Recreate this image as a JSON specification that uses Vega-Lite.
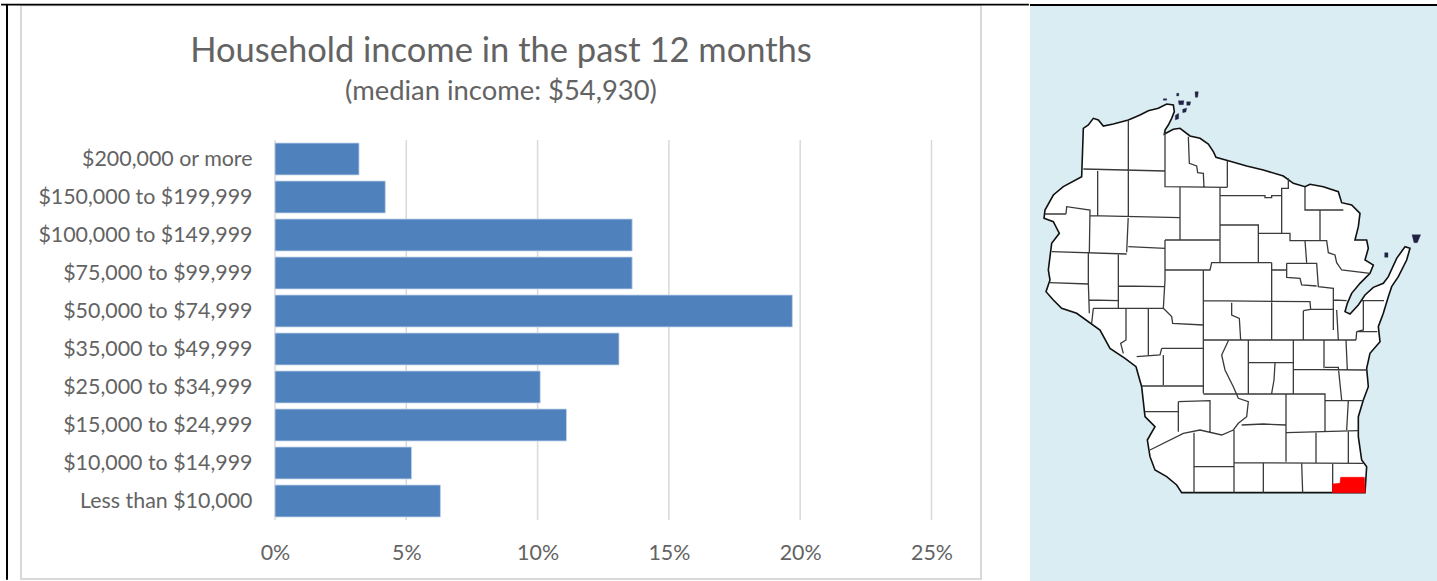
{
  "$schema": "https://vega.github.io/schema/vega-lite/v6.json",
  "padding": 0,
  "spacing": 0,
  "background": "white",
  "autosize": {"type": "pad"},
  "config": {"font": "Lato", "concat": {"spacing": 0}, "axis": {"grid": false}},
  "datasets": {
    "income": [
      {"bracket": "$200,000 or more", "share": 3.2},
      {"bracket": "$150,000 to $199,999", "share": 4.2},
      {"bracket": "$100,000 to $149,999", "share": 13.6},
      {"bracket": "$75,000 to $99,999", "share": 13.6},
      {"bracket": "$50,000 to $74,999", "share": 19.7},
      {"bracket": "$35,000 to $49,999", "share": 13.1},
      {"bracket": "$25,000 to $34,999", "share": 10.1},
      {"bracket": "$15,000 to $24,999", "share": 11.1},
      {"bracket": "$10,000 to $14,999", "share": 5.2},
      {"bracket": "Less than $10,000", "share": 6.3}
    ],
    "gridTicks": [{"tick": 0}, {"tick": 5}, {"tick": 10}, {"tick": 15}, {"tick": 20}, {"tick": 25}],
    "state": [
      {"type": "Feature", "properties": {"name": "Wisconsin"}, "geometry": {"type": "Polygon", "coordinates": [[
        [160,175],[175,165],[190,145],[205,150],[220,168],[250,162],[295,150],[330,135],[355,122],[385,115],[410,102],[430,105],[433,125],[425,145],[415,165],[405,180],[403,192],[430,178],[450,175],[480,198],[510,205],[535,222],[550,245],[558,262],[595,272],[650,288],[700,300],[760,318],[790,340],[825,350],[840,343],[880,350],[925,365],[935,398],[965,405],[990,430],[985,470],[975,510],[1010,510],[1015,535],[1005,570],[1030,585],[1020,610],[990,640],[965,670],[952,700],[945,725],[960,732],[985,705],[1005,675],[1030,652],[1060,640],[1075,620],[1100,565],[1125,530],[1140,535],[1130,570],[1105,620],[1085,650],[1075,680],[1060,730],[1045,770],[1050,815],[1020,850],[1010,895],[1015,950],[1000,990],[985,1040],[985,1100],[995,1170],[1010,1190],[1005,1268],[455,1268],[440,1245],[410,1220],[375,1200],[360,1160],[352,1110],[375,1070],[345,1040],[335,950],[318,890],[285,865],[240,835],[210,780],[140,730],[95,715],[70,690],[48,665],[60,630],[55,600],[65,520],[88,490],[70,455],[42,445],[45,420],[70,375],[100,350],[155,320],[160,175]
      ]]}}
    ],
    "countyLines": [
      {"type": "Feature", "properties": {"name": "county boundaries"}, "geometry": {"type": "MultiLineString", "coordinates": [
        [[295,150],[295,435],[290,547]],
        [[160,297],[405,303]],
        [[203,303],[203,437]],
        [[405,180],[405,350],[592,352]],
        [[475,200],[478,280],[500,288],[503,308],[520,310],[522,352]],
        [[592,272],[592,352]],
        [[570,352],[570,578]],
        [[450,352],[450,510]],
        [[570,377],[705,377],[705,383],[725,383],[725,377],[755,377]],
        [[775,325],[775,355],[755,355],[755,490]],
        [[825,350],[825,420],[940,420]],
        [[870,420],[870,512]],
        [[570,465],[685,465],[685,578]],
        [[685,490],[780,490],[780,512],[890,512],[895,548],[915,555],[920,578],[935,600],[1020,610]],
        [[825,512],[830,578]],
        [[725,578],[545,578],[540,600],[405,600]],
        [[725,578],[725,810]],
        [[725,600],[770,600],[770,622],[810,625],[815,645],[860,648]],
        [[770,580],[860,580],[865,650],[910,655],[910,780]],
        [[770,580],[770,600]],
        [[405,510],[570,510]],
        [[405,510],[405,630],[400,715],[425,740],[428,760],[520,765]],
        [[295,530],[405,535]],
        [[180,437],[450,443]],
        [[108,432],[110,410],[180,420],[178,550]],
        [[45,432],[108,432]],
        [[65,545],[290,552]],
        [[175,550],[175,640],[178,730]],
        [[265,552],[265,715]],
        [[60,638],[175,642]],
        [[265,648],[405,650]],
        [[178,690],[265,692]],
        [[190,715],[400,715]],
        [[190,715],[185,760]],
        [[520,600],[520,970]],
        [[288,715],[288,810],[272,820],[280,850]],
        [[355,715],[355,855]],
        [[395,835],[520,835]],
        [[395,835],[390,855],[320,860]],
        [[400,855],[400,945]],
        [[335,948],[520,948]],
        [[520,692],[840,695],[842,718],[910,718]],
        [[605,698],[605,735],[628,745],[632,810]],
        [[820,722],[820,810]],
        [[842,718],[820,722]],
        [[910,690],[950,692]],
        [[995,692],[1062,692]],
        [[920,720],[925,810]],
        [[1000,692],[1000,780],[980,785],[1042,785]],
        [[980,785],[978,810]],
        [[520,810],[978,810]],
        [[595,812],[575,855],[585,900],[610,950],[625,985],[655,995],[650,1040],[625,1060],[610,1080],[575,1095],[510,1080],[460,1090],[360,1140]],
        [[655,810],[655,970]],
        [[655,878],[790,878]],
        [[790,812],[790,970]],
        [[882,812],[882,895]],
        [[948,810],[952,900]],
        [[790,898],[1010,900]],
        [[885,892],[925,892],[935,990]],
        [[735,880],[732,930],[725,970]],
        [[520,972],[885,972],[885,1085]],
        [[768,972],[768,1175]],
        [[955,992],[950,1080]],
        [[885,992],[1000,992]],
        [[445,995],[540,992],[540,1085]],
        [[445,995],[445,1085]],
        [[345,1025],[445,1025]],
        [[635,1065],[700,1062],[768,1065]],
        [[612,1080],[612,1268]],
        [[770,1088],[985,1082]],
        [[858,1088],[858,1178]],
        [[955,1082],[955,1178]],
        [[492,1088],[492,1268]],
        [[492,1190],[612,1190]],
        [[612,1178],[1000,1180]],
        [[700,1180],[700,1268]],
        [[815,1180],[818,1268]],
        [[908,1180],[908,1268]]
      ]}}
    ],
    "kenosha": [
      {"type": "Feature", "properties": {"name": "Kenosha County"}, "geometry": {"type": "Polygon", "coordinates": [[
        [908,1242],[930,1240],[932,1222],[1003,1222],[1006,1268],[908,1268],[908,1242]
      ]]}}
    ],
    "islands": [
      {"type": "Feature", "properties": {"name": "islands"}, "geometry": {"type": "MultiPolygon", "coordinates": [
        [[[495,65],[505,65],[503,82],[496,82],[495,65]]],
        [[[440,70],[447,70],[446,78],[440,78],[440,70]]],
        [[[445,92],[462,92],[460,104],[447,104],[445,92]]],
        [[[470,95],[482,95],[480,106],[470,106],[470,95]]],
        [[[458,118],[470,114],[468,126],[458,128],[458,118]]],
        [[[436,136],[446,130],[446,146],[436,150],[436,136]]],
        [[[400,86],[410,86],[410,91],[400,91],[400,86]]],
        [[[1146,494],[1172,494],[1162,518],[1152,518],[1146,494]]],
        [[[1064,548],[1074,548],[1074,562],[1064,562],[1064,548]]]
      ]}}
    ],
    "pageRule": [
      {"type": "Feature", "properties": {"name": "page rule"}, "geometry": {"type": "LineString", "coordinates": [[0,-195],[1221,-195]]}}
    ],
    "pageStrip": [
      {"type": "Feature", "properties": {"name": "page strip"}, "geometry": {"type": "Polygon", "coordinates": [[[0,-210],[1221,-210],[1221,-195],[0,-195],[0,-210]]]}}
    ]
  },
  "hconcat": [
    {
      "width": 1030,
      "height": 581,
      "view": {"stroke": null},
      "title": {
        "text": "Household income in the past 12 months",
        "subtitle": "(median income: $54,930)",
        "anchor": "middle",
        "frame": "group",
        "dx": -14,
        "offset": -106,
        "color": "#636363",
        "subtitleColor": "#636363",
        "font": "Lato",
        "subtitleFont": "Lato",
        "fontSize": 34.5,
        "fontWeight": 400,
        "subtitleFontSize": 27.4,
        "subtitleFontWeight": 400,
        "subtitlePadding": 8
      },
      "resolve": {"scale": {"y": "independent"}},
      "layer": [
        {
          "description": "White card behind the bars",
          "data": {"values": [{"part": "card"}]},
          "mark": {"type": "rect", "fill": "white", "stroke": "#d9d9d9", "strokeWidth": 2},
          "encoding": {
            "x": {"datum": -9.672, "type": "quantitative", "scale": {"domain": [-10.472, 28.751], "nice": false, "zero": false}},
            "x2": {"datum": 26.885},
            "y": {"datum": 0.9, "type": "quantitative", "scale": {"domain": [0, 100], "reverse": true, "nice": false}, "axis": null},
            "y2": {"datum": 99.66}
          }
        },
        {
          "description": "Table rule along the left of the page",
          "data": {"values": [{"part": "table rule"}]},
          "mark": {"type": "rule", "color": "black", "strokeWidth": 2},
          "encoding": {
            "x": {"datum": -10.205, "type": "quantitative"},
            "y": {"datum": 0.8, "type": "quantitative", "scale": {"domain": [0, 100], "reverse": true, "nice": false}, "axis": null},
            "y2": {"datum": 99.8}
          }
        },
        {
          "description": "Table rule along the top of the page",
          "data": {"values": [{"part": "table rule"}]},
          "mark": {"type": "rule", "color": "black", "strokeWidth": 1.6},
          "encoding": {
            "x": {"datum": -10.43, "type": "quantitative"},
            "x2": {"datum": 28.71},
            "y": {"datum": 0.8, "type": "quantitative", "scale": {"domain": [0, 100], "reverse": true, "nice": false}, "axis": null}
          }
        },
        {
          "description": "Vertical gridlines",
          "data": {"name": "gridTicks"},
          "mark": {"type": "rule", "color": "#d9d9d9", "strokeWidth": 1.5},
          "encoding": {
            "x": {"field": "tick", "type": "quantitative"},
            "y": {"datum": 24.1, "type": "quantitative", "scale": {"domain": [0, 100], "reverse": true, "nice": false}, "axis": null},
            "y2": {"datum": 89.5}
          }
        },
        {
          "description": "Share of households per income bracket",
          "data": {"name": "income"},
          "mark": {"type": "bar", "fill": "#4f81bd", "stroke": "#c3d3e8", "strokeWidth": 0.8},
          "encoding": {
            "x": {
              "field": "share",
              "type": "quantitative",
              "axis": {
                "values": [0, 5, 10, 15, 20, 25],
                "labelExpr": "datum.value + '%'",
                "title": null,
                "grid": false,
                "domain": false,
                "ticks": false,
                "orient": "bottom",
                "offset": -39,
                "labelPadding": 0,
                "labelFontSize": 21.4,
                "labelColor": "#636363",
                "labelFont": "Lato",
                "zindex": 1
              }
            },
            "y": {
              "field": "bracket",
              "type": "nominal",
              "sort": null,
              "scale": {"range": [140, 520], "paddingInner": 0.16, "paddingOuter": 0.08},
              "axis": {
                "title": null,
                "domain": false,
                "ticks": false,
                "orient": "left",
                "offset": -252,
                "labelPadding": 0,
                "labelOffset": 1,
                "labelFontSize": 21.4,
                "labelColor": "#636363",
                "labelFont": "Lato",
                "labelLimit": 300,
                "zindex": 1
              }
            }
          }
        }
      ]
    },
    {
      "width": 407,
      "height": 581,
      "view": {"fill": "#daedf3", "stroke": null},
      "projection": {"type": "identity", "scale": 0.33333, "translate": [0, 70]},
      "layer": [
        {
          "data": {"name": "pageStrip"},
          "mark": {"type": "geoshape", "fill": "white", "stroke": null},
          "encoding": {}
        },
        {
          "data": {"name": "state"},
          "mark": {"type": "geoshape", "fill": "white", "stroke": "#111111", "strokeWidth": 1.6},
          "encoding": {}
        },
        {
          "data": {"name": "countyLines"},
          "mark": {"type": "geoshape", "fill": null, "filled": false, "stroke": "#3a3a3a", "strokeWidth": 1.3},
          "encoding": {}
        },
        {
          "data": {"name": "kenosha"},
          "mark": {"type": "geoshape", "fill": "#ff0000", "stroke": "#ff0000", "strokeWidth": 0.6},
          "encoding": {}
        },
        {
          "data": {"name": "islands"},
          "mark": {"type": "geoshape", "fill": "#222244", "stroke": "#222244", "strokeWidth": 0.3},
          "encoding": {}
        },
        {
          "data": {"name": "pageRule"},
          "mark": {"type": "geoshape", "fill": null, "filled": false, "stroke": "black", "strokeWidth": 2.2},
          "encoding": {}
        }
      ]
    }
  ]
}
